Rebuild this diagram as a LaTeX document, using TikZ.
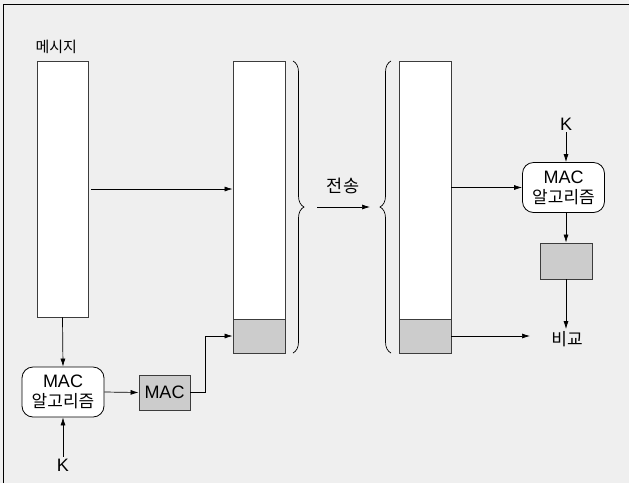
\documentclass[tikz,border=0pt]{standalone}
\usepackage{fontspec}
\setmainfont{Liberation Sans}
\newfontfamily\kr{Noto Sans CJK KR}
\definecolor{bggray}{RGB}{239,239,239}
\definecolor{taggray}{RGB}{204,204,204}
\definecolor{linegray}{RGB}{60,60,60}
\usetikzlibrary{arrows.meta,positioning,decorations.pathreplacing}

\begin{document}
\begin{tikzpicture}[x=1pt,y=-1pt,
    blk/.style={draw=linegray,line width=0.9pt,fill=white,inner sep=0pt},
    tagbox/.style={draw=linegray,line width=0.9pt,fill=taggray,inner sep=0pt},
    algbox/.style={draw=black,line width=0.8pt,fill=white,rounded corners=11pt,
        minimum width=82pt,minimum height=50pt,align=center,inner sep=1pt,
        font=\fontsize{18}{20}\selectfont},
    lbl/.style={font=\fontsize{18}{20}\selectfont,inner sep=2pt},
    conn/.style={line width=0.7pt,-{Latex[length=8pt,width=5pt]}},
    brc/.style={line width=0.7pt,decorate,decoration={brace,amplitude=11pt}}]
  \useasboundingbox (0,0) rectangle (629,483);
  \fill[bggray] (0,0) rectangle (629,483);
  \draw[line width=1pt] (3.5,483) -- (3.5,4.5) -- (629,4.5);

  %% sender side
  \node[font=\fontsize{15}{16}\selectfont\kr,anchor=west] (msglbl) at (32,47) {메시지};
  \node[blk,minimum width=51pt,minimum height=256pt] (msg) at (62.5,189) {};
  \node[algbox] (algoS) at (63,392) {MAC\\{\kr\fontsize{17}{18}\selectfont 알고리즘}};
  \node[lbl] (kS) at (63,465) {K};
  \node[tagbox,minimum width=51pt,minimum height=35pt,lbl] (macS) at (164.5,392.5) {MAC};

  %% transmitted message + tag
  \node[blk,minimum width=52pt,minimum height=258pt] (txbody) at (259,190) {};
  \node[tagbox,minimum width=52pt,minimum height=34pt] (txtag) at (259,336) {};

  %% receiver side
  \node[blk,minimum width=52pt,minimum height=258pt] (rxbody) at (425,190) {};
  \node[tagbox,minimum width=52pt,minimum height=34pt] (rxtag) at (425,336) {};
  \node[algbox] (algoR) at (563.5,187.5) {MAC\\{\kr\fontsize{17}{18}\selectfont 알고리즘}};
  \node[lbl] (kR) at (566,124) {K};
  \node[tagbox,minimum width=52pt,minimum height=36pt] (macR) at (566,261) {};
  \node[lbl,font=\fontsize{17}{18}\selectfont\kr] (cmp) at (567,339) {비교};

  %% transmission
  \draw[brc] (293,61) -- (293,353);
  \draw[brc] (391,353) -- (391,61);
  \node[lbl,font=\fontsize{17.5}{19}\selectfont\kr] (send) at (343,186) {전송};
  \coordinate (sendA) at (317,207);
  \coordinate (sendB) at (370,207);
  \draw[conn] (sendA) -- (sendB);

  %% connectors
  \draw[conn] ([xshift=3pt]msg.east) -- (msg.east -| txbody.west);
  \draw[conn] (msg.south) -- (algoS.north);
  \draw[conn] (kS.north) -- (algoS.south);
  \draw[conn] (algoS.east) -- (macS.west);
  \coordinate (bend) at (205,392.5);
  \draw[conn] (macS.east) -- (bend) |- (txtag.west);
  \draw[conn] (algoR.west -| rxbody.east) -- (algoR.west);
  \draw[conn] (kR.south) -- (kR.south |- algoR.north);
  \draw[conn] (macR.north |- algoR.south) -- (macR.north);
  \draw[conn] (macR.south) -- (cmp.north -| macR.south);
  \coordinate (cmpin) at (530,336);
  \draw[conn] (rxtag.east) -- (cmpin);
\end{tikzpicture}
\end{document}
